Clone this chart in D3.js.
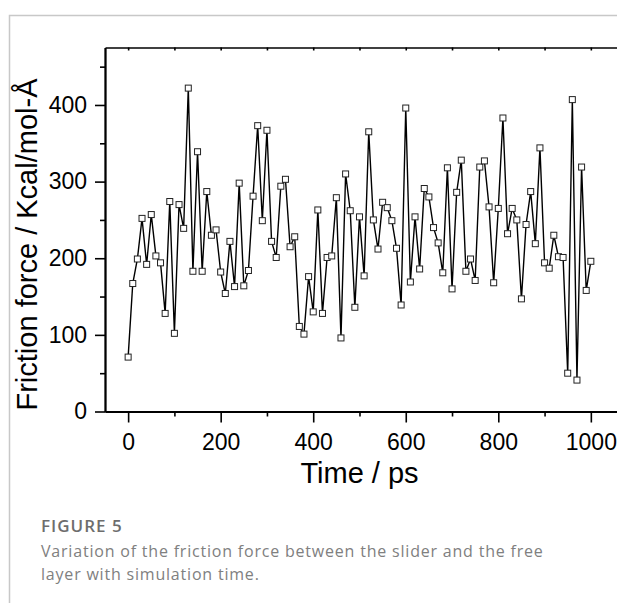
<!DOCTYPE html>
<html>
<head>
<meta charset="utf-8">
<script src="https://cdn.jsdelivr.net/npm/d3@7"></script>
<style>
  body { margin: 0; overflow: hidden; background: white; }
</style>
</head>
<body>
<div id="chart"></div>
<script>

let svgWidth = 617;
let svgHeight = 603;

// time in ps, one sample every 10 ps
let timePs = [
  0, 10, 20, 30, 40, 50, 60, 70, 80, 90,
  100, 110, 120, 130, 140, 150, 160, 170, 180, 190,
  200, 210, 220, 230, 240, 250, 260, 270, 280, 290,
  300, 310, 320, 330, 340, 350, 360, 370, 380, 390,
  400, 410, 420, 430, 440, 450, 460, 470, 480, 490,
  500, 510, 520, 530, 540, 550, 560, 570, 580, 590,
  600, 610, 620, 630, 640, 650, 660, 670, 680, 690,
  700, 710, 720, 730, 740, 750, 760, 770, 780, 790,
  800, 810, 820, 830, 840, 850, 860, 870, 880, 890,
  900, 910, 920, 930, 940, 950, 960, 970, 980, 990,
  1000
];

// friction force, Kcal/mol-Å
let frictionForce = [
  71, 167, 199, 252, 192, 257, 203, 194, 128, 274,
  102, 270, 239, 422, 183, 339, 183, 287, 230, 237,
  182, 154, 222, 163, 298, 164, 184, 281, 373, 249,
  367, 222, 201, 294, 303, 215, 228, 111, 101, 176,
  130, 263, 128, 201, 203, 279, 96, 310, 262, 136,
  254, 177, 365, 250, 212, 273, 266, 249, 213, 139,
  396, 169, 254, 186, 291, 280, 240, 220, 181, 318,
  160, 286, 328, 183, 199, 171, 319, 327, 267, 168,
  265, 383, 232, 265, 250, 147, 244, 287, 219, 344,
  194, 187, 230, 202, 201, 50, 407, 41, 319, 158,
  196
];

let xMajorTicks = [0, 200, 400, 600, 800, 1000];
let xMinorTicks = [100, 300, 500, 700, 900];
let xTopTicks = [0, 100, 200, 300, 400, 500, 600, 700, 800, 900, 1000];
let yMajorTicks = [0, 100, 200, 300, 400];
let yMinorTicks = [50, 150, 250, 350, 450];

let points = timePs.map(function(t, i){
  return {t: t, f: frictionForce[i]};
});

let viz = d3.select("#chart")
  .append("svg")
    .attr("width", svgWidth)
    .attr("height", svgHeight)
    .style("font-family", "'Liberation Sans', Arial, sans-serif");

// card border (top + left)
viz.append("path")
  .attr("d", "M9.5," + svgHeight + "V15.5H" + svgWidth)
  .attr("fill", "none")
  .attr("stroke", "#c8c8c8")
  .attr("stroke-width", 1.5);

// right end of the frame is cropped off in the figure
let xScale = d3.scaleLinear().domain([-50, 1060]).range([105, 618.6]);
let yScale = d3.scaleLinear().domain([0, 475]).range([411.5, 47.5]);

let axisLayer = viz.append("g");

function styleAxis(g){
  g.selectAll(".domain").attr("stroke", "black").attr("stroke-width", 1.8);
  g.selectAll(".tick line").attr("stroke", "black").attr("stroke-width", 1.6);
  g.selectAll(".tick text")
    .attr("fill", "black")
    .style("font-size", "23px")
    .style("font-family", "'Liberation Sans', Arial, sans-serif");
}

// bottom axis
let bottomMajor = axisLayer.append("g")
  .attr("transform", "translate(0," + yScale(0) + ")")
  .call(d3.axisBottom(xScale).tickValues(xMajorTicks).tickFormat(d3.format("d"))
    .tickSize(11).tickSizeOuter(0).tickPadding(11));
styleAxis(bottomMajor);

let bottomMinor = axisLayer.append("g")
  .attr("transform", "translate(0," + yScale(0) + ")")
  .call(d3.axisBottom(xScale).tickValues(xMinorTicks).tickSize(5).tickSizeOuter(0).tickFormat(""));
styleAxis(bottomMinor);

// top axis, ticks inward
let topAxis = axisLayer.append("g")
  .attr("transform", "translate(0," + yScale(475) + ")")
  .call(d3.axisBottom(xScale).tickValues(xTopTicks).tickSize(3).tickSizeOuter(0).tickFormat(""));
styleAxis(topAxis);
topAxis.selectAll(".domain").attr("stroke-width", 1.5);

// left axis
let leftMajor = axisLayer.append("g")
  .attr("transform", "translate(" + xScale(-50) + ",0)")
  .call(d3.axisLeft(yScale).tickValues(yMajorTicks).tickFormat(d3.format("d"))
    .tickSize(10).tickSizeOuter(0).tickPadding(8));
styleAxis(leftMajor);

let leftMinor = axisLayer.append("g")
  .attr("transform", "translate(" + xScale(-50) + ",0)")
  .call(d3.axisLeft(yScale).tickValues(yMinorTicks).tickSize(5).tickSizeOuter(0).tickFormat(""));
styleAxis(leftMinor);

// axis titles
viz.append("text")
  .attr("x", xScale(500))
  .attr("y", 483)
  .attr("text-anchor", "middle")
  .style("font-size", "29px")
  .text("Time / ps");

viz.append("text")
  .attr("transform", "translate(37," + (yScale(0) - 1) + ") rotate(-90)")
  .attr("text-anchor", "start")
  .style("font-size", "29px")
  .text("Friction force / Kcal/mol-Å");

// the series
let line = d3.line()
  .x(function(d){ return xScale(d.t); })
  .y(function(d){ return yScale(d.f); });

viz.append("path")
  .datum(points)
  .attr("d", line)
  .attr("fill", "none")
  .attr("stroke", "black")
  .attr("stroke-width", 1.4);

let markerSize = 6;
viz.append("g").selectAll("rect").data(points).enter()
  .append("rect")
  .attr("x", function(d){ return xScale(d.t) - markerSize / 2; })
  .attr("y", function(d){ return yScale(d.f) - markerSize / 2; })
  .attr("width", markerSize)
  .attr("height", markerSize)
  .attr("fill", "white")
  .attr("stroke", "#222")
  .attr("stroke-width", 1);

// caption
let caption = viz.append("g").style("font-family", "'Open Sans', sans-serif");

caption.append("text")
  .attr("x", 41)
  .attr("y", 532)
  .attr("fill", "#6d6d6d")
  .style("font-size", "17px")
  .style("font-weight", 600)
  .style("letter-spacing", "1px")
  .text("FIGURE 5");

caption.append("text")
  .attr("x", 41)
  .attr("y", 557)
  .attr("fill", "#808080")
  .style("font-size", "16px")
  .style("letter-spacing", "0.8px")
  .text("Variation of the friction force between the slider and the free");

caption.append("text")
  .attr("x", 41)
  .attr("y", 580)
  .attr("fill", "#808080")
  .style("font-size", "16px")
  .style("letter-spacing", "0.8px")
  .text("layer with simulation time.");

</script>
</body>
</html>
